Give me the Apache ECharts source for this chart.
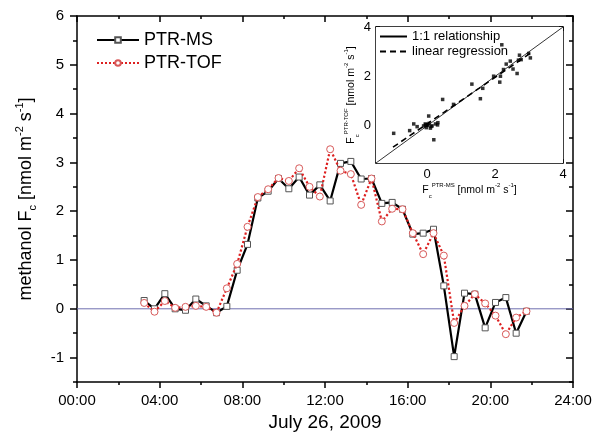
<!DOCTYPE html>
<html><head><meta charset="utf-8">
<script src="https://cdn.jsdelivr.net/npm/echarts@6/dist/echarts.min.js"></script>
<style>html,body{margin:0;padding:0;background:#fff}#c{width:600px;height:438px}</style>
</head><body><div id="c"></div>
<script>
// ---- data (hours of July 26, 2009) ----
const times = [3.25,3.75,4.25,4.75,5.25,5.75,6.25,6.75,7.25,7.75,8.25,8.75,9.25,9.75,10.25,10.75,11.25,11.75,12.25,12.75,13.25,13.75,14.25,14.75,15.25,15.75,16.25,16.75,17.25,17.75,18.25,18.75,19.25,19.75,20.25,20.75,21.25,21.75];
const ptrMS  = [0.17,0.00,0.31,0.00,-0.03,0.20,0.06,-0.08,0.05,0.79,1.32,2.27,2.41,2.67,2.46,2.70,2.33,2.54,2.21,2.98,3.02,2.66,2.67,2.16,2.18,2.04,1.53,1.55,1.63,0.47,-0.98,0.32,0.30,-0.39,0.13,0.23,-0.50,-0.05];
const ptrTOF = [0.12,-0.06,0.16,0.02,0.04,0.06,0.04,-0.08,0.42,0.92,1.68,2.29,2.45,2.68,2.62,2.88,2.50,2.30,3.27,2.83,2.76,2.13,2.67,1.79,2.05,2.04,1.55,1.12,1.55,1.09,-0.29,0.06,0.30,0.11,-0.14,-0.52,-0.18,-0.05];
const xTickLabels = ['00:00','04:00','08:00','12:00','16:00','20:00','24:00'];
const yTickValues = [-1,0,1,2,3,4,5,6];
const yMinorValues = [-1.5,-0.5,0.5,1.5,2.5,3.5,4.5,5.5];
const zeroLine = [[0,0],[24,0]];

// inset: F_c PTR-MS (x) vs F_c PTR-TOF (y)
const insetMS  = [-0.98,-0.51,-0.39,-0.29,-0.10,-0.05,-0.02,0.02,0.05,0.10,0.15,0.20,0.25,0.31,0.32,0.46,0.78,1.32,1.57,1.64,1.96,2.14,2.16,2.20,2.25,2.33,2.45,2.53,2.65,2.69,2.72,2.77,2.99,3.04,0.00,0.06,-0.04,0.12];
const insetTOF = [-0.30,-0.19,0.08,-0.03,0.00,0.08,-0.07,0.04,0.40,-0.09,0.00,-0.56,0.08,0.04,0.13,1.07,0.87,1.69,1.10,1.52,2.01,1.77,2.01,3.28,2.28,2.50,2.62,2.30,2.12,2.66,2.86,2.68,2.93,2.75,0.02,0.10,0.04,-0.02];
const oneToOne = [[-1.5,-1.5],[4,4]];
const regression = [[-1.0,-0.86],[3.05,2.95]];
const insetTickValues = [-1,0,1,2,3,4];
const insetLabelValues = [0,2,4];

const FONT = 'Liberation Sans, Arial, sans-serif';
const chart = echarts.init(document.getElementById('c'), null, {renderer:'canvas'});
const blk = {color:'#000', width:1.5};
const line = {onZero:false, lineStyle:blk};

const unitRich = (base, small) => ({
  a:{fontSize:base, fontFamily:FONT, color:'#000'},
  sub:{fontSize:small, fontFamily:FONT, color:'#000', verticalAlign:'bottom', padding:[0,0,-3,0]},
  sup:{fontSize:small, fontFamily:FONT, color:'#000', verticalAlign:'top', padding:[-3,0,0,0]}
});

const option = {
  backgroundColor:'#fff',
  animation:false,
  textStyle:{fontFamily:FONT},
  grid:[
    {left:77, right:27, top:16, bottom:56},
    {left:376, width:187, top:27, height:136, show:true, backgroundColor:'#fff', borderWidth:0, z:3}
  ],
  legend:[
    {data:['PTR-MS','PTR-TOF'], orient:'vertical', left:96, top:31, padding:0, itemWidth:42, itemHeight:7, itemGap:5, textStyle:{fontSize:18, fontFamily:FONT, color:'#000'}},
    {data:['1:1 relationship','linear regression'], orient:'vertical', left:379, top:30, padding:0, itemWidth:27, itemHeight:10, itemGap:2, itemStyle:{opacity:0}, textStyle:{fontSize:13, fontFamily:FONT, color:'#000'}}
  ],
  xAxis:[
    {gridIndex:0, type:'value', min:0, max:24, interval:4, position:'bottom',
     axisLine:line, axisTick:{length:6, lineStyle:blk}, minorTick:{show:true, splitNumber:2, length:3, lineStyle:blk},
     splitLine:{show:false}, minorSplitLine:{show:false},
     axisLabel:{formatter:(v)=>xTickLabels[Math.round(v/4)], fontSize:15, color:'#000', margin:11, fontFamily:FONT},
     name:'July 26, 2009', nameLocation:'middle', nameGap:31, nameTextStyle:{fontSize:19, color:'#000', fontFamily:FONT}},
    {gridIndex:0, type:'value', min:0, max:24, interval:4, position:'top',
     axisLine:line, axisTick:{inside:true, length:6, lineStyle:blk}, minorTick:{show:true, splitNumber:2, length:3, lineStyle:blk},
     splitLine:{show:false}, axisLabel:{show:false}},
    {gridIndex:1, type:'value', min:-1.5, max:4, position:'bottom',
     axisLine:line, axisTick:{inside:true, length:4, customValues:insetTickValues, lineStyle:blk},
     splitLine:{show:false},
     axisLabel:{customValues:insetLabelValues, fontSize:13, color:'#000', margin:5, fontFamily:FONT},
     name:'{a|F}{sub|c}{sup|PTR-MS}{a| [nmol m}{sup|-2}{a| s}{sup|-1}{a|]}', nameLocation:'middle', nameGap:21,
     nameTextStyle:{rich:unitRich(10.5,6)}},
    {gridIndex:1, type:'value', min:-1.5, max:4, position:'top',
     axisLine:line, axisTick:{inside:true, length:4, customValues:insetTickValues, lineStyle:blk},
     splitLine:{show:false}, axisLabel:{show:false}}
  ],
  yAxis:[
    {gridIndex:0, type:'value', min:-1.5, max:6, position:'left',
     axisLine:{show:true, onZero:false, lineStyle:blk}, axisTick:{show:true, length:7, customValues:yTickValues, lineStyle:blk},
     splitLine:{show:false},
     axisLabel:{customValues:yTickValues, fontSize:15, color:'#000', margin:13, fontFamily:FONT},
     name:'{a|methanol F}{sub|c}{a| [nmol m}{sup|-2}{a| s}{sup|-1}{a|]}', nameLocation:'middle', nameGap:42, nameRotate:90,
     nameTextStyle:{rich:unitRich(18,11)}},
    {gridIndex:0, type:'value', min:-1.5, max:6, position:'left',
     axisLine:{show:false, onZero:false}, axisTick:{show:true, length:4, customValues:yMinorValues, lineStyle:blk},
     splitLine:{show:false}, axisLabel:{show:false}},
    {gridIndex:0, type:'value', min:-1.5, max:6, position:'right',
     axisLine:{show:true, onZero:false, lineStyle:blk}, axisTick:{show:true, inside:true, length:7, customValues:yTickValues, lineStyle:blk},
     splitLine:{show:false}, axisLabel:{show:false}},
    {gridIndex:0, type:'value', min:-1.5, max:6, position:'right',
     axisLine:{show:false, onZero:false}, axisTick:{show:true, inside:true, length:4, customValues:yMinorValues, lineStyle:blk},
     splitLine:{show:false}, axisLabel:{show:false}},
    {gridIndex:1, type:'value', min:-1.5, max:4, position:'left',
     axisLine:{show:true, onZero:false, lineStyle:blk}, axisTick:{show:true, inside:true, length:4, customValues:insetTickValues, lineStyle:blk},
     splitLine:{show:false},
     axisLabel:{customValues:insetLabelValues, fontSize:13, color:'#000', margin:5, fontFamily:FONT},
     name:'{a|F}{sub|c}{sup|PTR-TOF}{a| [nmol m}{sup|-2}{a| s}{sup|-1}{a|]}', nameLocation:'middle', nameGap:17, nameRotate:90,
     nameTextStyle:{rich:unitRich(10.5,6)}},
    {gridIndex:1, type:'value', min:-1.5, max:4, position:'right',
     axisLine:{show:true, onZero:false, lineStyle:blk}, axisTick:{show:true, inside:true, length:4, customValues:insetTickValues, lineStyle:blk},
     splitLine:{show:false}, axisLabel:{show:false}}
  ],
  series:[
    {name:'zero', type:'line', xAxisIndex:0, yAxisIndex:0, data:zeroLine, symbol:'none', silent:true,
     lineStyle:{color:'#6f6fb0', width:1}, z:1},
    {name:'PTR-MS', type:'line', xAxisIndex:0, yAxisIndex:0, data:times.map((t,i)=>[t,ptrMS[i]]),
     symbol:'rect', symbolSize:6, showAllSymbol:true,
     lineStyle:{color:'#000', width:2.2}, itemStyle:{color:'#fff', borderColor:'#555', borderWidth:1}, z:3},
    {name:'PTR-TOF', type:'line', xAxisIndex:0, yAxisIndex:0, data:times.map((t,i)=>[t,ptrTOF[i]]),
     symbol:'circle', symbolSize:7, showAllSymbol:true,
     lineStyle:{color:'#dd2020', width:2.2, type:'dotted'}, itemStyle:{color:'#fff', borderColor:'#d85a5a', borderWidth:1}, z:4},
    {name:'1:1 relationship', type:'line', xAxisIndex:2, yAxisIndex:4, data:oneToOne, symbol:'none',
     lineStyle:{color:'#000', width:0.8}, itemStyle:{color:'#000'}, z:5},
    {name:'linear regression', type:'line', xAxisIndex:2, yAxisIndex:4, data:regression, symbol:'none',
     lineStyle:{color:'#000', width:1.6, type:[6,4]}, itemStyle:{color:'#000'}, z:5},
    {name:'inset points', type:'scatter', xAxisIndex:2, yAxisIndex:4, data:insetMS.map((v,i)=>[v,insetTOF[i]]),
     symbol:'rect', symbolSize:3.5, itemStyle:{color:'#000'}, z:6}
  ]
};
chart.setOption(option);
</script></body></html>
